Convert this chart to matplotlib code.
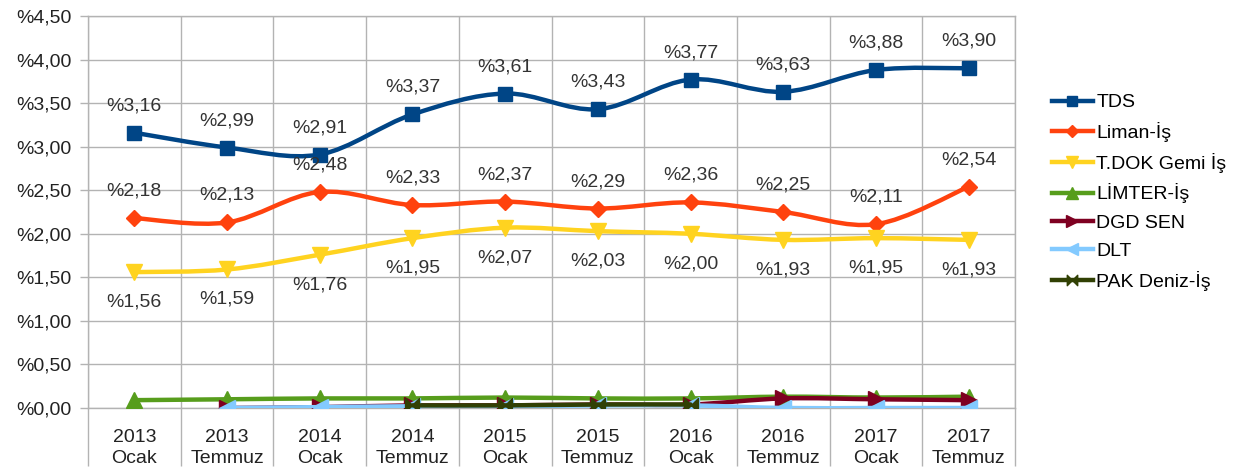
import numpy as np
import matplotlib
matplotlib.use("Agg")
import matplotlib.pyplot as plt
from matplotlib.path import Path
from matplotlib.patches import PathPatch
from matplotlib.lines import Line2D

plt.rcParams['font.family'] = ['Liberation Sans', 'DejaVu Sans']

categories = ["2013\nOcak", "2013\nTemmuz", "2014\nOcak", "2014\nTemmuz", "2015\nOcak",
              "2015\nTemmuz", "2016\nOcak", "2016\nTemmuz", "2017\nOcak", "2017\nTemmuz"]

tds = [3.16, 2.99, 2.91, 3.37, 3.61, 3.43, 3.77, 3.63, 3.88, 3.90]
liman = [2.18, 2.13, 2.48, 2.33, 2.37, 2.29, 2.36, 2.25, 2.11, 2.54]
tdok = [1.56, 1.59, 1.76, 1.95, 2.07, 2.03, 2.00, 1.93, 1.95, 1.93]
limter = [0.09, 0.10, 0.11, 0.11, 0.12, 0.11, 0.11, 0.13, 0.12, 0.13]
dgd = [None, 0.00, 0.01, 0.03, 0.03, 0.04, 0.04, 0.11, 0.10, 0.09]
dlt = [None, 0.00, 0.01, 0.02, 0.02, 0.03, 0.03, 0.00, 0.00, 0.00]
pak = [None, None, None, 0.03, 0.03, 0.04, 0.04, None, None, None]

bowtie = Path([(-1, 1), (1, -1), (1, 1), (-1, -1), (-1, 1)],
              [Path.MOVETO, Path.LINETO, Path.LINETO, Path.LINETO, Path.CLOSEPOLY])

series = [
    ("TDS", tds, "#004586", "s", 10, "above"),
    ("Liman-İş", liman, "#ff420e", "D", 8, "above"),
    ("T.DOK Gemi İş", tdok, "#ffd320", "v", 11, "below"),
    ("LİMTER-İş", limter, "#579d1c", "^", 11, None),
    ("DGD SEN", dgd, "#7e0021", ">", 11, None),
    ("DLT", dlt, "#83caff", "<", 11, None),
    ("PAK Deniz-İş", pak, "#314004", bowtie, 10, None),
]

FS = 14


def smooth_path(xs, ys):
    # catmull-rom segments as cubic bezier curves
    pts = np.column_stack([xs, ys])
    verts = [pts[0]]
    codes = [Path.MOVETO]
    n = len(pts)
    for i in range(n - 1):
        p0 = pts[max(i - 1, 0)]
        p1 = pts[i]
        p2 = pts[i + 1]
        p3 = pts[min(i + 2, n - 1)]
        c1 = p1 + (p2 - p0) / 6.0
        c2 = p2 - (p3 - p1) / 6.0
        verts += [c1, c2, p2]
        codes += [Path.CURVE4] * 3
    return Path(verts, codes)


fig = plt.figure(figsize=(12.6, 4.73), dpi=100)
ax = fig.add_axes([88 / 1260, 1 - 408 / 473, (1015 - 88) / 1260, (408 - 16) / 473])

x = np.arange(len(categories))
handles = []
for z, (name, vals, color, marker, ms, pos) in enumerate(series):
    xs = [i for i, v in zip(x, vals) if v is not None]
    ys = [v for v in vals if v is not None]
    if len(xs) > 1:
        ax.add_patch(PathPatch(smooth_path(xs, ys), facecolor='none', edgecolor=color,
                               lw=3.2, zorder=3 + z, capstyle='round'))
    ax.plot(xs, ys, ls='none', marker=marker, ms=ms, color=color, zorder=3 + z)
    handles.append(Line2D([], [], color=color, lw=3.2, marker=marker, ms=ms * 0.75))
    if pos:
        off = 27 if pos == "above" else -30
        for xi, yi in zip(xs, ys):
            ax.annotate("%" + f"{yi:.2f}".replace(".", ","), (xi, yi),
                        xytext=(0, off), textcoords='offset pixels',
                        ha='center', va='center', fontsize=FS, color='#333333', zorder=20)

ax.set_xlim(-0.5, len(categories) - 0.5)
ax.set_ylim(0, 4.5)
yt = np.arange(0, 4.51, 0.5)
ax.set_yticks(yt)
ax.set_yticklabels(["%" + f"{v:.2f}".replace(".", ",") for v in yt])
ax.set_xticks(x)
ax.set_xticklabels(categories, linespacing=1.35)
ax.set_xticks(np.arange(-0.5, len(categories), 1), minor=True)

ax.tick_params(axis='x', which='major', length=0, pad=15, labelsize=FS, labelcolor='#222222')
ax.tick_params(axis='x', which='minor', length=42, width=1, color='#b3b3b3', direction='out')
ax.tick_params(axis='y', length=6, width=1, color='#b3b3b3', pad=6, labelsize=FS,
               labelcolor='#222222')

ax.grid(True, axis='y', color='#b3b3b3', lw=1)
ax.grid(True, axis='x', which='minor', color='#b3b3b3', lw=1)
for s in ax.spines.values():
    s.set_color('#b3b3b3')
    s.set_linewidth(1)
ax.set_axisbelow(True)

fig.legend(handles, [s[0] for s in series], loc='upper left',
           bbox_to_anchor=(1044 / 1260, 1 - 86 / 473), frameon=False, fontsize=FS,
           handlelength=2.1, handletextpad=0.2, labelspacing=0.55, borderaxespad=0)

fig.savefig("out.png", dpi=100)
